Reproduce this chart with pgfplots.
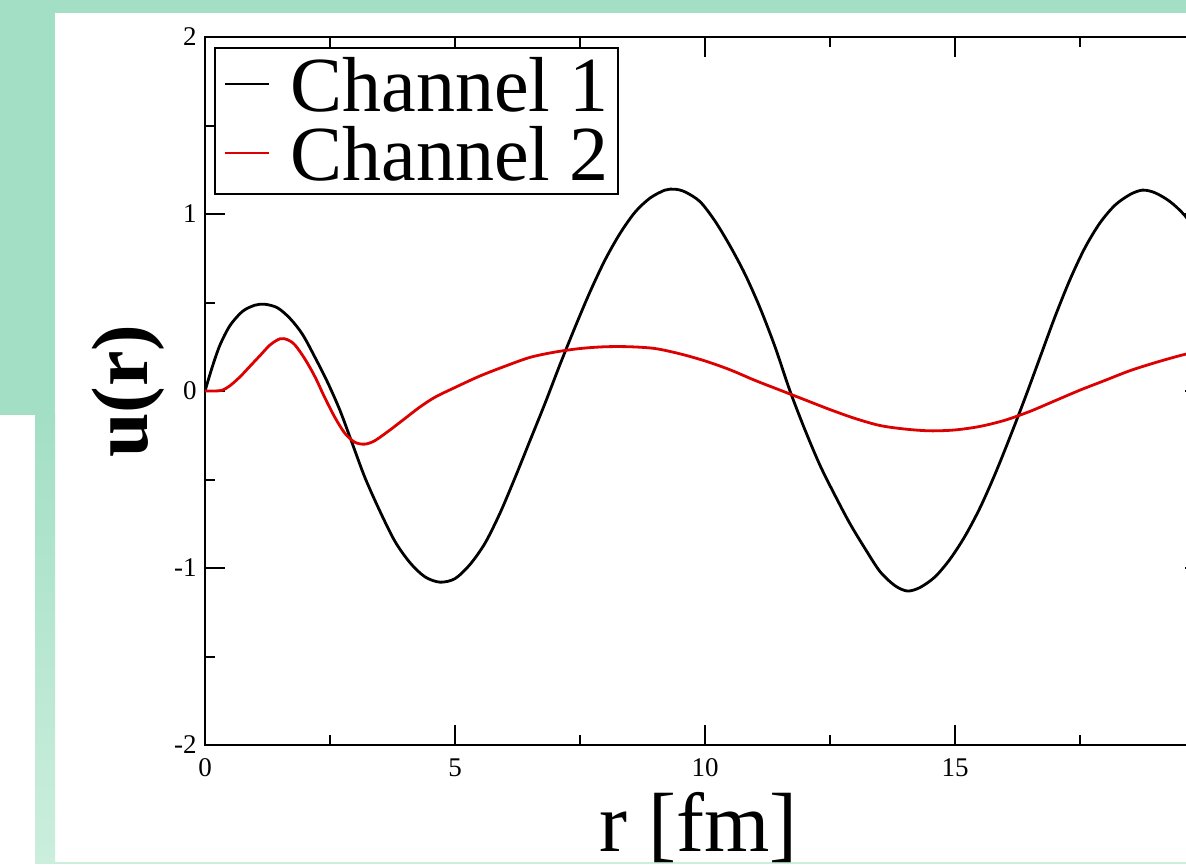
\documentclass[border=0pt]{standalone}
\usepackage{fontspec}
\setmainfont{Liberation Serif}
\usepackage{pgfplots}
\pgfplotsset{compat=1.18}
\definecolor{slidegreen}{HTML}{A3DFC5}
\definecolor{slidegreenlight}{HTML}{CBEEDD}
\definecolor{chanred}{HTML}{DD0000}

\begin{document}
\begin{tikzpicture}
\useasboundingbox (0,0) rectangle (593pt,432pt);
\clip (0,0) rectangle (593pt,432pt);
% slide background
\fill[white] (0,0) rectangle (593pt,432pt);
\fill[slidegreen] (0,425.5pt) rectangle (593pt,432pt);
\fill[slidegreen] (0,224.5pt) rectangle (27.5pt,425.5pt);
\shade[top color=slidegreen, bottom color=slidegreenlight] (17.5pt,1pt) rectangle (27.5pt,224.6pt);
\fill[slidegreenlight] (17.5pt,0) rectangle (593pt,1pt);

\begin{axis}[
  at={(102.5pt,59.5pt)}, anchor=south west,
  scale only axis, width=500pt, height=354pt,
  xmin=0, xmax=20, ymin=-2, ymax=2,
  xtick={0,5,10,15,20}, xticklabels={0,5,10,15,{}},
  ytick={-2,-1,0,1,2}, yticklabels={-2,-1,0,1,2},
  minor x tick num=1, minor y tick num=1,
  tick align=inside,
  major tick length=10pt, minor tick length=5pt,
  axis line style={line width=1pt},
  every tick/.style={black, line width=1pt},
  tick label style={font=\fontsize{13.5}{13.5}\selectfont, inner sep=0pt},
  xticklabel style={anchor=north, yshift=-6.5pt},
  yticklabel style={anchor=east, xshift=-4pt},
  xlabel={r [fm]},
  xlabel style={font=\fontsize{42}{42}\selectfont, at={(axis description cs:0.4935,-0.1511)}, anchor=base, inner sep=0pt},
  ylabel={u(r)},
  ylabel style={font=\fontsize{40}{40}\selectfont\bfseries, at={(axis description cs:-0.057,0.5)}, anchor=base, inner sep=0pt},
  legend cell align=left,
  legend image code/.code={\draw[#1] (0pt,14pt) -- (22pt,14pt); \path[draw=none] (0pt,0pt) -- (32.5pt,0pt);},
  legend style={at={(0.009,0.986)}, anchor=north west, draw=black, line width=1pt,
    font=\fontsize{39}{39}\selectfont, inner xsep=4.5pt, inner ysep=2pt,
    row sep=0pt, column sep=0pt,
    nodes={inner sep=0pt, text height=30pt, text depth=4.5pt, anchor=base west}},
]
\addplot[black, line width=1.4pt, smooth] coordinates {
  (0,0) (0.15,0.14) (0.3,0.26) (0.5,0.37) (0.75,0.45) (1.0,0.485) (1.2,0.49)
  (1.45,0.47) (1.7,0.41) (1.95,0.32) (2.2,0.19) (2.45,0.05) (2.7,-0.11)
  (2.95,-0.30) (3.2,-0.49) (3.5,-0.68) (3.8,-0.85) (4.1,-0.97) (4.4,-1.05)
  (4.7,-1.08) (5.0,-1.06) (5.3,-0.98) (5.6,-0.86) (5.9,-0.69) (6.2,-0.49)
  (6.5,-0.28) (6.8,-0.07) (7.1,0.15) (7.4,0.36) (7.7,0.56) (8.0,0.74)
  (8.3,0.89) (8.6,1.01) (8.9,1.09) (9.2,1.135) (9.4,1.14) (9.6,1.125)
  (9.9,1.07) (10.2,0.96) (10.5,0.82) (10.8,0.66) (11.1,0.47) (11.4,0.25)
  (11.7,0.0) (12.0,-0.22) (12.3,-0.42) (12.6,-0.59) (12.9,-0.75) (13.2,-0.89)
  (13.5,-1.02) (13.8,-1.10) (14.05,-1.13) (14.3,-1.11) (14.6,-1.05)
  (14.9,-0.95) (15.2,-0.82) (15.5,-0.66) (15.8,-0.47) (16.1,-0.26)
  (16.4,-0.04) (16.7,0.19) (17.0,0.42) (17.3,0.63) (17.6,0.81) (17.9,0.95)
  (18.2,1.05) (18.5,1.11) (18.75,1.135) (19.0,1.12) (19.3,1.07) (19.6,0.99)
  (20,0.84)};
\addlegendentry{Channel 1}
\addplot[chanred, line width=1.4pt, smooth] coordinates {
  (0,0) (0.2,0) (0.35,0.005) (0.5,0.03) (0.7,0.08) (0.9,0.14) (1.1,0.20)
  (1.3,0.26) (1.5,0.295) (1.65,0.29) (1.8,0.26) (2.0,0.18) (2.2,0.08)
  (2.4,-0.04) (2.6,-0.15) (2.8,-0.24) (3.0,-0.29) (3.2,-0.30) (3.4,-0.28)
  (3.7,-0.22) (4.0,-0.155) (4.3,-0.09) (4.6,-0.035) (5.0,0.02) (5.5,0.085)
  (6.0,0.14) (6.5,0.19) (7.0,0.22) (7.5,0.24) (8.0,0.25) (8.5,0.25) (9.0,0.24)
  (9.5,0.21) (10.0,0.17) (10.5,0.12) (11.0,0.06) (11.5,0.005) (12.0,-0.05)
  (12.5,-0.105) (13.0,-0.155) (13.5,-0.195) (14.0,-0.215) (14.5,-0.225)
  (15.0,-0.22) (15.5,-0.2) (16.0,-0.165) (16.5,-0.115) (17.0,-0.055)
  (17.5,0.005) (18.0,0.06) (18.5,0.115) (19.0,0.16) (19.5,0.2) (20,0.235)};
\addlegendentry{Channel 2}
\end{axis}
\end{tikzpicture}
\end{document}
